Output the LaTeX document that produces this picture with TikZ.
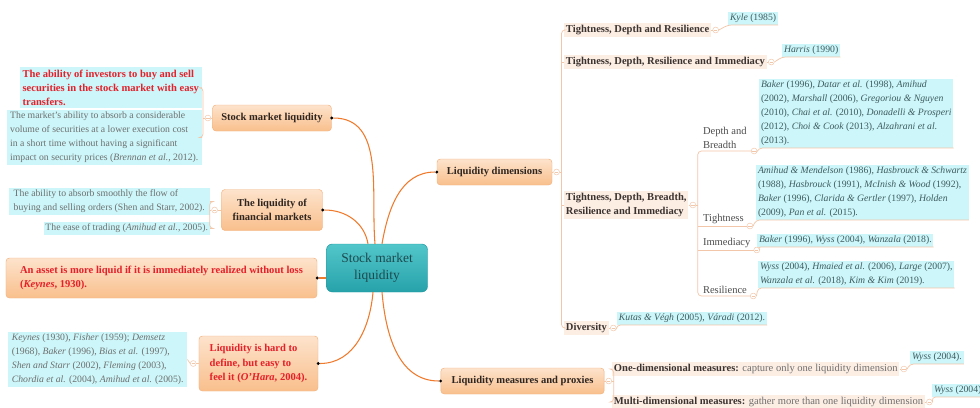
\documentclass[tikz,border=0pt]{standalone}
\usepackage{fontspec}
\setmainfont{Liberation Serif}
\usepackage{xcolor}
\usetikzlibrary{positioning,calc}
\definecolor{topicedge}{HTML}{F2B27E}
\definecolor{topictop}{HTML}{FDE3CC}
\definecolor{topicbot}{HTML}{F9BF8C}
\definecolor{topictext}{HTML}{2E2520}
\definecolor{coretop}{HTML}{52C6CA}
\definecolor{corebot}{HTML}{27A2AA}
\definecolor{coreedge}{HTML}{2299A1}
\definecolor{coretext}{HTML}{1C4A4E}
\definecolor{notecyan}{HTML}{CCF6F9}
\definecolor{labelpeach}{HTML}{FDEEE4}
\definecolor{alertred}{HTML}{E5202A}
\definecolor{notegrey}{HTML}{6F6F6F}
\definecolor{refteal}{HTML}{3F5C60}
\definecolor{labeltext}{HTML}{3B3330}
\definecolor{leafgrey}{HTML}{4D4D4D}
\definecolor{linkorange}{HTML}{F07A2C}
\definecolor{linkpeach}{HTML}{F2C6A8}
\newcommand{\mapsize}{\fontsize{9}{12}\selectfont}
\newcommand{\notesize}{\fontsize{8.3}{12}\selectfont}
\tikzset{
  centralbox/.style={
    rectangle, rounded corners=5pt, draw=coreedge,
    top color=coretop, bottom color=corebot, text=coretext,
    font=\fontsize{11.5}{14.5}\selectfont, align=center,
    minimum width=3.03cm, minimum height=1.44cm
  },
  topicbox/.style={
    rectangle, rounded corners=3pt, draw=topicedge,
    top color=topictop, bottom color=topicbot, text=topictext,
    font=\mapsize\bfseries, align=center, inner sep=3pt
  },
  alerttopic/.style={text=alertred, align=left},
  notebox/.style={
    rectangle, fill=notecyan, text=notegrey,
    font=\notesize, align=left, inner sep=1.5pt
  },
  alertnote/.style={text=alertred, font=\mapsize\bfseries},
  refnote/.style={text=refteal},
  sublabel/.style={
    rectangle, fill=labelpeach, text=labeltext,
    font=\mapsize\bfseries, align=left, inner sep=1.5pt
  },
  leaflabel/.style={
    rectangle, text=leafgrey, font=\mapsize, align=left, inner sep=1.5pt
  },
  foldmark/.style={
    circle, draw=linkpeach, fill=white, inner sep=0pt,
    minimum size=5pt, line width=0.4pt,
    path picture={\draw[linkpeach, line width=0.4pt]
      ([xshift=-1.4pt]path picture bounding box.center) --
      ([xshift=1.4pt]path picture bounding box.center);}
  },
  joint/.style={circle, fill=black, inner sep=0pt, minimum size=2.6pt},
  mainlink/.style={draw=linkorange, line width=0.9pt},
  sublink/.style={draw=linkpeach, line width=0.6pt, rounded corners=3pt},
}
\begin{document}
\begin{tikzpicture}[x=0.03cm, y=-0.03cm]
\path[fill=white, use as bounding box] (0,0) rectangle (980,407);

% Central topic
\node[centralbox] (stock) at (377,268) {Stock market\\liquidity};

% Left branches
\node[topicbox, minimum width=3.57cm, minimum height=0.78cm] (slq) at (272,118) {Stock market liquidity};
\node[topicbox, minimum width=3.03cm, minimum height=1.23cm] (tlf) at (272,210) {The liquidity of\\financial markets};
\node[topicbox, alerttopic, minimum width=9.33cm, minimum height=1.2cm] (asset) at (161.5,278)
  {An asset is more liquid if it is immediately realized without loss\\(\textit{Keynes}, 1930).};
\node[topicbox, alerttopic, minimum width=3.57cm, minimum height=1.65cm] (hard) at (258.5,363.5)
  {Liquidity is hard to\\define, but easy to\\feel it (\textit{O'Hara}, 2004).};

\node[joint] (slqj) at (slq.east) {};
\node[joint] (tlfj) at (tlf.east) {};
\node[joint] (assetj) at (asset.east) {};
\node[joint] (hardj) at (hard.east) {};

\node[foldmark, left=1pt of slq] (slqf) {};
\node[foldmark, left=3pt of tlf] (tlff) {};
\node[foldmark, left=2pt of hard] (hardf) {};
\coordinate[left=1.5pt of slqf] (slqbar);
\coordinate[left=1.5pt of tlff] (tlfbar);

% Left notes
\node[notebox, alertnote, anchor=north east, minimum width=5.46cm, minimum height=1.23cm] (abil) at (202,67)
  {The ability of investors to buy and sell\\securities in the stock market with easy\\transfers.};
\node[notebox, anchor=north east, minimum width=5.85cm] (absorb) at (202,110)
  {The market's ability to absorb a considerable\\volume of securities at a lower execution cost\\in a short time without having a significant\\impact on security prices (\textit{Brennan et al.}, 2012).};
\node[notebox, anchor=north east, minimum width=6.03cm] (smooth) at (210,188)
  {The ability to absorb smoothly the flow of\\buying and selling orders (Shen and Starr, 2002).};
\node[notebox, anchor=north east] (ease) at (210,222)
  {The ease of trading (\textit{Amihud et al.}, 2005).};
\node[notebox, anchor=north west, minimum width=5.37cm] (refsl) at (8,332)
  {\textit{Keynes} (1930), \textit{Fisher} (1959); \textit{Demsetz}\\(1968), \textit{Baker} (1996), \textit{Bias et al.} (1997),\\\textit{Shen and Starr} (2002), \textit{Fleming} (2003),\\\textit{Chordia et al.} (2004), \textit{Amihud et al.} (2005).};

% Right branches
\node[topicbox, minimum width=3.45cm, minimum height=0.78cm] (dims) at (494.5,172) {Liquidity dimensions};
\node[topicbox, minimum width=4.9cm, minimum height=0.78cm] (measures) at (522.5,381) {Liquidity measures and proxies};
\node[joint] (dimsj) at (dims.west) {};
\node[joint] (measj) at (measures.west) {};
\node[foldmark, right=1pt of dims] (dimsf) {};
\node[foldmark, right=1pt of measures] (measf) {};
\coordinate[right=1.5pt of dimsf] (dimsbar);
\coordinate[right=1.5pt of measf] (measbar);

\node[sublabel, anchor=west] (tdr) at (564,30) {Tightness, Depth and Resilience};
\node[sublabel, anchor=west] (tdri) at (564,62) {Tightness, Depth, Resilience and Immediacy};
\node[sublabel, anchor=west] (tdbri) at (564,205) {Tightness, Depth, Breadth,\\Resilience and Immediacy};
\node[sublabel, anchor=west] (div) at (564,328) {Diversity};
\node[sublabel, anchor=west] (one) at (612,369)
  {One-dimensional measures: {\mdseries\color{notegrey}capture only one liquidity dimension}};
\node[sublabel, anchor=west] (multi) at (612,402)
  {Multi-dimensional measures: {\mdseries\color{notegrey}gather more than one liquidity dimension}};

\node[foldmark, right=1pt of tdr] (tdrf) {};
\node[foldmark, right=1pt of tdri] (tdrif) {};
\node[foldmark, right=1pt of tdbri] (tdbrif) {};
\node[foldmark, right=1pt of div] (divf) {};
\node[foldmark, right=1pt of one] (onef) {};
\node[foldmark, right=1pt of multi] (multif) {};
\coordinate[right=1.5pt of tdbrif] (tbar);

\node[leaflabel, anchor=south west] (dab) at (701,151) {Depth and\\Breadth};
\node[leaflabel, anchor=south west] (tight) at (701,226) {Tightness};
\node[leaflabel, anchor=south west] (immed) at (701,250) {Immediacy};
\node[leaflabel, anchor=south west] (resil) at (701,296) {Resilience};
\node[foldmark, right=2pt of dab.south east] (dabf) {};
\node[foldmark, right=1pt of tight.south east] (tightf) {};
\node[foldmark, right=1pt of immed.south east] (immedf) {};
\node[foldmark, right=1pt of resil.south east] (resilf) {};

% Right notes
\node[notebox, refnote, anchor=south west] (kyle) at (728,25) {\textit{Kyle} (1985)};
\node[notebox, refnote, anchor=south west] (harris) at (782,57) {\textit{Harris} (1990)};
\node[notebox, refnote, anchor=south west] (bakerA) at (759,148)
  {\textit{Baker} (1996), \textit{Datar et al.} (1998), \textit{Amihud}\\(2002), \textit{Marshall} (2006), \textit{Gregoriou \& Nguyen}\\(2010), \textit{Chai et al.} (2010), \textit{Donadelli \& Prosperi}\\(2012), \textit{Choi \& Cook} (2013), \textit{Alzahrani et al.}\\(2013).};
\node[notebox, refnote, anchor=south west] (amihudT) at (756,220)
  {\textit{Amihud \& Mendelson} (1986), \textit{Hasbrouck \& Schwartz}\\(1988), \textit{Hasbrouck} (1991), \textit{McInish \& Wood} (1992),\\\textit{Baker} (1996), \textit{Clarida \& Gertler} (1997), \textit{Holden}\\(2009), \textit{Pan et al.} (2015).};
\node[notebox, refnote, anchor=south west] (bakerI) at (757,247)
  {\textit{Baker} (1996), \textit{Wyss} (2004), \textit{Wanzala} (2018).};
\node[notebox, refnote, anchor=south west] (wyssR) at (758,288)
  {\textit{Wyss} (2004), \textit{Hmaied et al.} (2006), \textit{Large} (2007),\\\textit{Wanzala et al.} (2018), \textit{Kim \& Kim} (2019).};
\node[notebox, refnote, anchor=south west] (kutas) at (617,325)
  {\textit{Kutas \& Végh} (2005), \textit{Váradi} (2012).};
\node[notebox, refnote, anchor=south west] (wyss1) at (910,364) {\textit{Wyss} (2004).};
\node[notebox, refnote, anchor=south west] (wyss2) at (932,397) {\textit{Wyss} (2004)};

% Main links
\draw[mainlink] (slqj) to[out=0, in=95] ($(stock.north)+(-2,0)$);
\draw[mainlink] (tlfj) to[out=0, in=100] ($(stock.north)+(-9,0)$);
\draw[mainlink] (dimsj) to[out=180, in=80] ($(stock.north)+(5,0)$);
\draw[mainlink] (assetj) -- (stock.west |- assetj);
\draw[mainlink] (hardj) to[out=0, in=265] ($(stock.south)+(-4,0)$);
\draw[mainlink] (measj) to[out=180, in=275] ($(stock.south)+(5,0)$);

% Left sub links
\draw[sublink] (slq.west) -- (slqf.east);
\draw[sublink] (slqf.west) -- (slqbar);
\draw[sublink] (abil.east) -- (abil.east -| slqbar) -- (absorb.east -| slqbar) -- (absorb.east);
\draw[sublink] (tlf.west) -- (tlff.east);
\draw[sublink] (tlff.west) -- (tlfbar);
\draw[sublink] (smooth.east) -- (smooth.east -| tlfbar) -- (ease.east -| tlfbar) -- (ease.east);
\draw[sublink] (hard.west) -- (hardf.east);
\draw[sublink] (hardf.west) -- (refsl.east);

% Right sub links
\draw[sublink] (dims.east) -- (dimsf.west);
\draw[sublink] (dimsf.east) -- (dimsbar);
\draw[sublink] (tdr.west) -- (tdr.west -| dimsbar) -- (div.west -| dimsbar) -- (div.west);
\draw[sublink] (tdri.west) -- (tdri.west -| dimsbar);
\draw[sublink] (tdbri.west) -- (tdbri.west -| dimsbar);
\draw[sublink] (tdr.east) -- (tdrf.west);
\draw[sublink] (tdrf.east) -- (kyle.south west) -- (kyle.south east);
\draw[sublink] (tdri.east) -- (tdrif.west);
\draw[sublink] (tdrif.east) -- (harris.south west) -- (harris.south east);
\draw[sublink] (tdbri.east) -- (tdbrif.west);
\draw[sublink] (tdbrif.east) -- (tbar);
\draw[sublink] (dabf.west) -- (dabf.west -| tbar) -- (resilf.west -| tbar) -- (resilf.west);
\draw[sublink] (tightf.west) -- (tightf.west -| tbar);
\draw[sublink] (immedf.west) -- (immedf.west -| tbar);
\draw[sublink] (dabf.east) -- (bakerA.south west) -- (bakerA.south east);
\draw[sublink] (tightf.east) -- (amihudT.south west) -- (amihudT.south east);
\draw[sublink] (immedf.east) -- (bakerI.south west) -- (bakerI.south east);
\draw[sublink] (resilf.east) -- (wyssR.south west) -- (wyssR.south east);
\draw[sublink] (div.east) -- (divf.west);
\draw[sublink] (divf.east) -- (kutas.south west) -- (kutas.south east);
\draw[sublink] (measures.east) -- (measf.west);
\draw[sublink] (measf.east) -- (measbar);
\draw[sublink] (one.west) -- (one.west -| measbar) -- (multi.west -| measbar) -- (multi.west);
\draw[sublink] (one.east) -- (onef.west);
\draw[sublink] (onef.east) -- (wyss1.south west) -- (wyss1.south east);
\draw[sublink] (multi.east) -- (multif.west);
\draw[sublink] (multif.east) -- (wyss2.south west) -- (wyss2.south east);

\end{tikzpicture}
\end{document}
